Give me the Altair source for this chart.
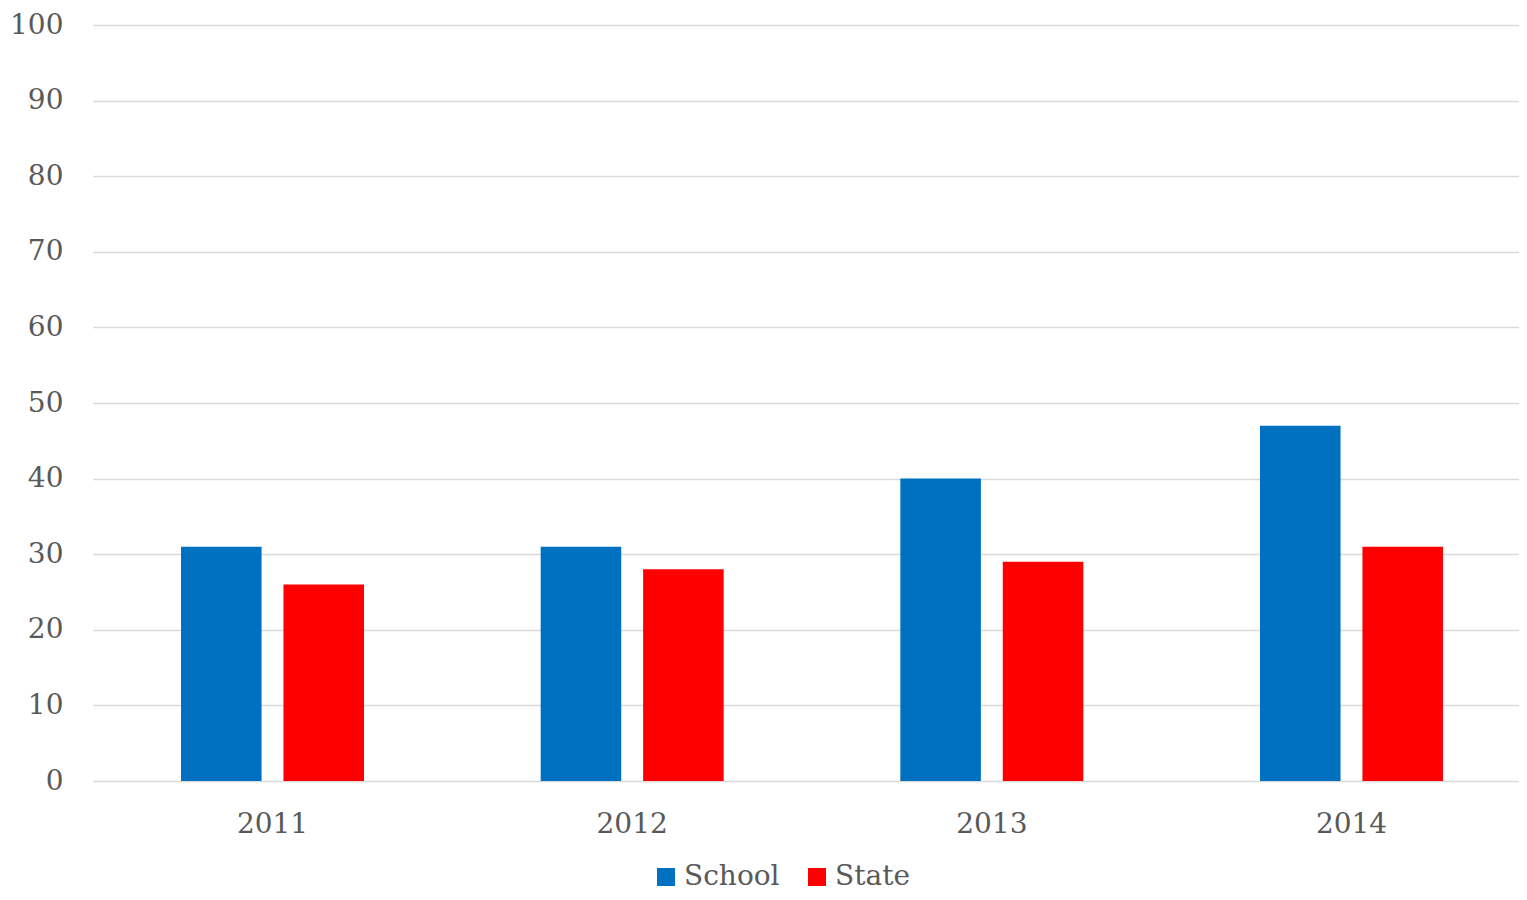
import altair as alt
import pandas as pd

years = ["2011", "2012", "2013", "2014"]
school = [31, 31, 40, 47]
state = [26, 28, 29, 31]
series = ["School", "State"]
colors = ["#0070C0", "#FF0000"]

rows = []
for i, y in enumerate(years):
    rows.append({"Year": y, "Series": "School", "Value": school[i]})
    rows.append({"Year": y, "Series": "State", "Value": state[i]})
df = pd.DataFrame(rows)

FONT = "DejaVu Serif"
TXT = "#595959"

chart = (
    alt.Chart(df)
    .mark_bar()
    .encode(
        x=alt.X(
            "Year:N",
            sort=years,
            scale=alt.Scale(paddingInner=0.4912, paddingOuter=0.228, align=0.5366),
            axis=alt.Axis(
                title=None, labelAngle=0, domain=False, ticks=False,
                labelPadding=29, labelFont=FONT, labelFontSize=28, labelColor=TXT,
                grid=False,
            ),
        ),
        xOffset=alt.XOffset(
            "Series:N", sort=series,
            scale=alt.Scale(paddingInner=0.2136, paddingOuter=0),
        ),
        y=alt.Y(
            "Value:Q",
            scale=alt.Scale(domain=[0, 100]),
            axis=alt.Axis(
                title=None, values=list(range(0, 101, 10)), domain=False, ticks=False,
                labelPadding=30, labelFont=FONT, labelFontSize=28, labelColor=TXT,
                grid=True, gridColor="#D9D9D9", gridWidth=1.5,
            ),
        ),
        color=alt.Color(
            "Series:N",
            scale=alt.Scale(domain=series, range=colors),
            legend=alt.Legend(
                title=None, orient="none", direction="horizontal",
                legendX=559, legendY=838,
                symbolType="square", symbolSize=324, symbolStrokeWidth=0,
                labelFont=FONT, labelFontSize=28, labelColor=TXT,
                labelOffset=4, columnPadding=23, padding=0,
            ),
        ),
    )
    .properties(
        width=1426, height=756,
        autosize=alt.AutoSizeParams(type="none"),
        padding={"left": 85, "top": 17, "right": 0, "bottom": 111},
    )
    .configure_view(stroke=None)
)

chart.save("out.html", embed_options={"renderer": "svg", "actions": False})
